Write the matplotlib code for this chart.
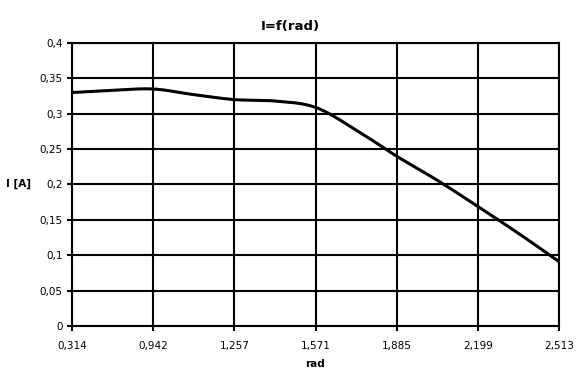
import numpy as np
import matplotlib
matplotlib.use("Agg")
import matplotlib.pyplot as plt

plt.rcParams["font.family"] = ["DejaVu Sans"]

# category labels on the x axis (equally spaced categories)
categories = ["0,314", "0,942", "1,257", "1,571", "1,885", "2,199", "2,513"]

# readings of the curve: position in category units and current in A
x_read = [0, 0.5, 1, 1.5, 2, 2.5, 3, 3.5, 4, 4.5, 5, 5.5, 6]
i_read = [0.330, 0.333, 0.335, 0.327, 0.320, 0.318, 0.309,
          0.277, 0.240, 0.206, 0.169, 0.131, 0.091]

y_ticks = [0, 0.05, 0.1, 0.15, 0.2, 0.25, 0.3, 0.35, 0.4]
y_labels = ["0", "0,05", "0,1", "0,15", "0,2", "0,25", "0,3", "0,35", "0,4"]


# Catmull-Rom smoothing, like the spreadsheet "smoothed line" option
def smooth(xs, ys, n=30):
    xs = np.asarray(xs, float)
    ys = np.asarray(ys, float)
    px = np.concatenate([[2 * xs[0] - xs[1]], xs, [2 * xs[-1] - xs[-2]]])
    py = np.concatenate([[2 * ys[0] - ys[1]], ys, [2 * ys[-1] - ys[-2]]])
    out_x, out_y = [], []
    t = np.linspace(0, 1, n)
    for k in range(1, len(px) - 2):
        for p, out in ((px, out_x), (py, out_y)):
            p0, p1, p2, p3 = p[k - 1], p[k], p[k + 1], p[k + 2]
            out.extend(0.5 * (2 * p1 + (-p0 + p2) * t
                              + (2 * p0 - 5 * p1 + 4 * p2 - p3) * t ** 2
                              + (-p0 + 3 * p1 - 3 * p2 + p3) * t ** 3))
    return out_x, out_y


fig = plt.figure(figsize=(5.8, 3.82), dpi=100)
ax = fig.add_axes([72 / 580, 56 / 382, 487 / 580, 283 / 382])

sx, sy = smooth(x_read, i_read)
ax.plot(sx, sy, color="black", lw=2.2, solid_capstyle="butt", zorder=3)

ax.set_xlim(0, len(categories) - 1)
ax.set_ylim(0, 0.4)
ax.set_xticks(range(len(categories)))
ax.set_xticklabels(categories, fontsize=7.5)
ax.set_yticks(y_ticks)
ax.set_yticklabels(y_labels, fontsize=7.5)
ax.grid(True, color="black", lw=1.5)
for s in ax.spines.values():
    s.set_linewidth(1.5)
ax.tick_params(length=3.6, width=1.5, colors="black")
ax.tick_params(axis="x", pad=7)
ax.tick_params(axis="y", pad=3)

fig.text(0.5, 1 - 26.5 / 382, "I=f(rad)", fontsize=9.5, fontweight="bold",
         ha="center", va="center")
ax.set_xlabel("rad", fontsize=7.5, fontweight="bold", labelpad=6)
ax.set_ylabel("I [A]", fontsize=7.5, fontweight="bold", rotation=0,
              ha="center", va="center")
ax.yaxis.set_label_coords((18.5 - 72) / 487, (326 - 184) / 283)

fig.savefig("out.png", dpi=100)
